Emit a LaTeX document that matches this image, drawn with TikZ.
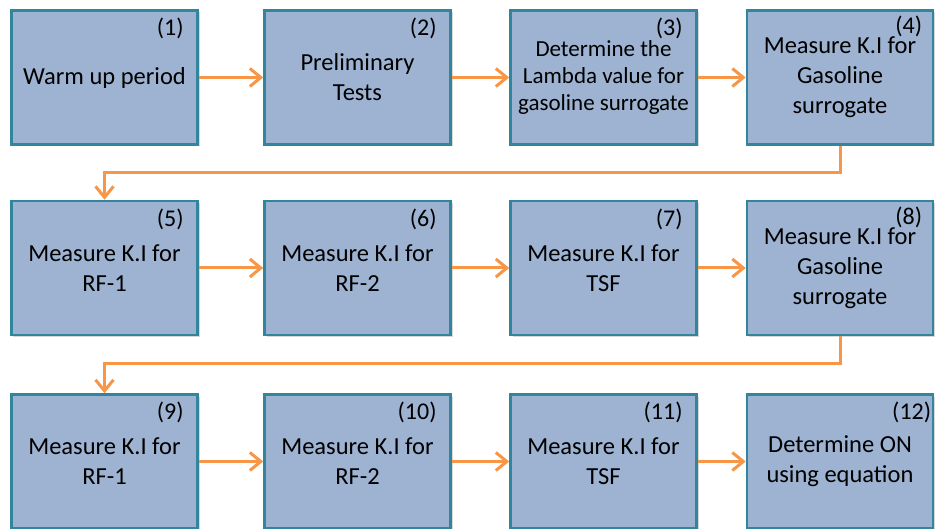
\documentclass[tikz,border=0pt]{standalone}
\usepackage{fontspec}
\setmainfont{Carlito}
\usetikzlibrary{arrows.meta,calc,shadows}
\definecolor{boxfill}{HTML}{9DB3D1}
\definecolor{boxline}{HTML}{31859C}
\definecolor{arrowc}{HTML}{F79646}
\definecolor{shade}{HTML}{7F7F7F}

\begin{document}
\begin{tikzpicture}[
  x=1bp, y=1bp,
  stage/.style={draw=boxline, line width=2.6bp, fill=boxfill,
     minimum width=186bp, minimum height=134bp, inner sep=0pt,
     align=center, font=\fontsize{24.5bp}{30bp}\selectfont,
     drop shadow={shadow xshift=2bp, shadow yshift=-2bp, opacity=0.3, fill=shade}},
  num/.style={anchor=north east, inner sep=0pt, font=\fontsize{24bp}{28bp}\selectfont},
  arr/.style={-{Straight Barb[length=11bp,width=18bp]}, line width=3bp, draw=arrowc},
]
\useasboundingbox (0,0) rectangle (936,-529);
% --- columns and rows ---
\def\xa{104.5}  \def\xb{357.5}  \def\xc{603.5}  \def\xd{840}
\def\ya{-77.5}  \def\yb{-268}   \def\yc{-461.5}
% --- first row ---
\node[stage] (b1) at (\xa,\ya) {Warm up period};
\node[stage] (b2) at (\xb,\ya) {Preliminary\\Tests};
\node[stage, font=\fontsize{23bp}{27bp}\selectfont] (b3) at (\xc,\ya)
  {Determine the\\Lambda value for\\gasoline surrogate};
\node[stage] (b4) at (\xd,\ya) {Measure K.I for\\Gasoline\\surrogate};
% --- second row ---
\node[stage] (b5) at (\xa,\yb) {Measure K.I for\\RF-1};
\node[stage] (b6) at (\xb,\yb) {Measure K.I for\\RF-2};
\node[stage] (b7) at (\xc,\yb) {Measure K.I for\\TSF};
\node[stage] (b8) at (\xd,\yb) {Measure K.I for\\Gasoline\\surrogate};
% --- third row ---
\node[stage] (b9)  at (\xa,\yc) {Measure K.I for\\RF-1};
\node[stage] (b10) at (\xb,\yc) {Measure K.I for\\RF-2};
\node[stage] (b11) at (\xc,\yc) {Measure K.I for\\TSF};
\node[stage] (b12) at (\xd,\yc) {Determine ON\\using equation};
% --- step numbers ---
\foreach \i in {1,2,3,5,6,7,9,10,11}
  \node[num] (n\i) at ($(b\i.north east)+(-15,-9)$) {(\i)};
\node[num] (n4)  at ($(b4.north east)+(-12,-7)$) {(4)};
\node[num] (n8)  at ($(b8.north east)+(-12,-7)$) {(8)};
\node[num] (n12) at ($(b12.north east)+(-3,-9)$) {(12)};
% --- arrows ---
\draw[arr] (b1) -- (b2);
\draw[arr] (b2) -- (b3);
\draw[arr] (b3) -- (b4);
\draw[arr] (b4.south) -- ++(0,-27) -| (b5.north);
\draw[arr] (b5) -- (b6);
\draw[arr] (b6) -- (b7);
\draw[arr] (b7) -- (b8);
\draw[arr] (b8.south) -- ++(0,-27) -| (b9.north);
\draw[arr] (b9) -- (b10);
\draw[arr] (b10) -- (b11);
\draw[arr] (b11) -- (b12);
\end{tikzpicture}
\end{document}
